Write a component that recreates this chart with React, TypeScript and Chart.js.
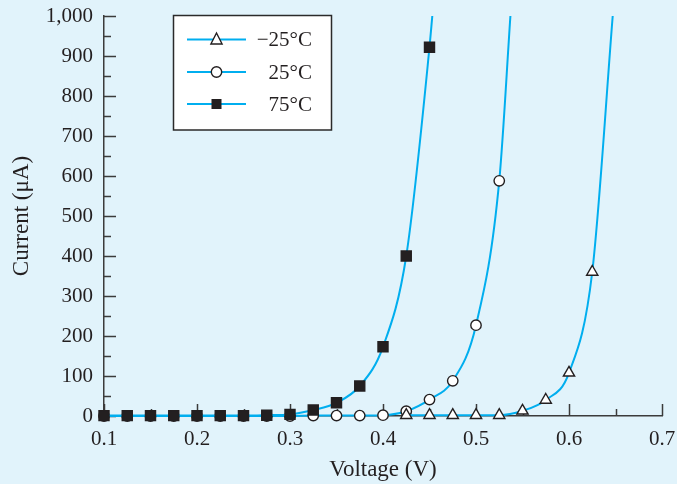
import React, { useEffect, useRef } from "react";
import { Chart, registerables } from "chart.js";

Chart.register(...registerables);

// ---- data ----
const voltageM25 = [0.425, 0.45, 0.475, 0.5, 0.525, 0.55, 0.575, 0.6, 0.625, 0.647];
const currentM25 = [2, 2, 2, 2, 2, 13, 40, 108, 360, 1000];

const voltage25 = [0.1, 0.125, 0.15, 0.175, 0.2, 0.225, 0.25, 0.275, 0.3, 0.325, 0.35, 0.375, 0.4, 0.425, 0.45, 0.475, 0.5, 0.525, 0.537];
const current25 = [0, 0, 0, 0, 0, 0, 0, 0, 0, 1, 1, 1, 2, 12, 41, 88, 227, 588, 1000];

const voltage75 = [0.1, 0.125, 0.15, 0.175, 0.2, 0.225, 0.25, 0.275, 0.3, 0.325, 0.35, 0.375, 0.4, 0.425, 0.45, 0.453];
const current75 = [1, 1, 1, 1, 1, 1, 1, 2, 4, 15, 33, 75, 173, 400, 922, 1000];

const seriesLabels = ["\u221225\u00B0C", "25\u00B0C", "75\u00B0C"];
const xTickValues = [0.1, 0.2, 0.3, 0.4, 0.5, 0.6, 0.7];
const yTickValues = [0, 100, 200, 300, 400, 500, 600, 700, 800, 900, 1000];

const xTitle = "Voltage (V)";
const yTitle = "Current (\u03BCA)";

// ---- styles ----
const BG = "#e1f3fb";
const LINE = "#00aeef";
const AXIS = "#3b3b3b";
const TEXT = "#231f20";
const MARK = "#231f20";
const FONT = "'Liberation Serif', 'Times New Roman', serif";

const pts = (xs: number[], ys: number[]) => xs.map((x, i) => ({ x, y: ys[i] }));

function drawMarker(ctx: CanvasRenderingContext2D, kind: string, x: number, y: number) {
  ctx.save();
  ctx.lineWidth = 1.4;
  ctx.strokeStyle = MARK;
  ctx.beginPath();
  if (kind === "triangle") {
    ctx.moveTo(x, y - 6.5);
    ctx.lineTo(x + 5.6, y + 4.5);
    ctx.lineTo(x - 5.6, y + 4.5);
    ctx.closePath();
    ctx.fillStyle = "#ffffff";
    ctx.fill();
    ctx.stroke();
  } else if (kind === "circle") {
    ctx.arc(x, y, 5.2, 0, Math.PI * 2);
    ctx.fillStyle = "#ffffff";
    ctx.fill();
    ctx.stroke();
  } else {
    ctx.fillStyle = MARK;
    ctx.fillRect(x - 5, y - 5, 10, 10);
  }
  ctx.restore();
}

const decorPlugin = {
  id: "decor",
  beforeDraw(chart: any) {
    const { ctx, width, height } = chart;
    ctx.save();
    ctx.fillStyle = BG;
    ctx.fillRect(0, 0, width, height);
    ctx.restore();
  },
  beforeDatasetsDraw(chart: any) {
    const { ctx, chartArea } = chart;
    const x = chart.scales.x;
    const y = chart.scales.y;
    ctx.save();
    ctx.strokeStyle = AXIS;
    ctx.lineWidth = 1.5;
    for (let i = 0; i <= 20; i++) {
      const v = i * 50;
      const py = Math.round(y.getPixelForValue(v)) + 0.5;
      const len = i % 2 === 0 ? 12 : 7;
      ctx.beginPath();
      ctx.moveTo(chartArea.left, py);
      ctx.lineTo(chartArea.left + len, py);
      ctx.stroke();
    }
    for (let i = 0; i <= 12; i++) {
      const v = 0.1 + i * 0.05;
      const px = Math.round(x.getPixelForValue(v)) + 0.5;
      const len = i % 2 === 0 ? 12 : 7;
      ctx.beginPath();
      ctx.moveTo(px, chartArea.bottom);
      ctx.lineTo(px, chartArea.bottom - len);
      ctx.stroke();
    }
    ctx.restore();
  },
  afterDraw(chart: any) {
    const { ctx } = chart;
    ctx.save();
    // legend box
    ctx.fillStyle = "#ffffff";
    ctx.fillRect(173.5, 15.5, 158, 114.5);
    ctx.strokeStyle = "#2a2a2a";
    ctx.lineWidth = 1.5;
    ctx.strokeRect(173.5, 15.5, 158, 114.5);
    const rows = [39.5, 72, 104];
    const kinds = ["triangle", "circle", "rect"];
    rows.forEach((ry, i) => {
      ctx.strokeStyle = LINE;
      ctx.lineWidth = 2;
      ctx.beginPath();
      ctx.moveTo(187, ry);
      ctx.lineTo(246, ry);
      ctx.stroke();
      drawMarker(ctx, kinds[i], 216.5, ry);
      ctx.fillStyle = TEXT;
      ctx.font = `21px ${FONT}`;
      ctx.textAlign = "right";
      ctx.textBaseline = "middle";
      ctx.fillText(seriesLabels[i], 312, ry + 1);
    });
    ctx.restore();
  },
};

export default function App() {
  const ref = useRef<HTMLCanvasElement | null>(null);

  useEffect(() => {
    if (!ref.current) return;
    Chart.defaults.font.family = FONT;
    const common = {
      showLine: true,
      borderColor: LINE,
      borderWidth: 2,
      cubicInterpolationMode: "monotone" as const,
      pointBorderColor: MARK,
      pointBorderWidth: 1.4,
      pointHoverRadius: 0,
      clip: false as const,
    };
    const lastZero = (n: number, r: number) => (c: any) => (c.dataIndex === n - 1 ? 0 : r);
    const zeroPad = (s: any) => {
      s.paddingTop = 0;
      s.paddingBottom = 0;
      s.paddingLeft = 0;
      s.paddingRight = 0;
    };
    const chart = new Chart(ref.current, {
      type: "scatter",
      data: {
        datasets: [
          {
            ...common,
            label: seriesLabels[2],
            data: pts(voltage75, current75),
            pointStyle: "rect",
            pointRadius: lastZero(voltage75.length, 7.1),
            pointBackgroundColor: MARK,
            order: 0,
          },
          {
            ...common,
            label: seriesLabels[0],
            data: pts(voltageM25, currentM25),
            pointStyle: "triangle",
            pointRadius: lastZero(voltageM25.length, 6.5),
            pointBackgroundColor: "#ffffff",
            order: 1,
          },
          {
            ...common,
            label: seriesLabels[1],
            data: pts(voltage25, current25),
            pointStyle: "circle",
            pointRadius: lastZero(voltage25.length, 5.2),
            pointBackgroundColor: "#ffffff",
            order: 2,
          },
        ],
      },
      plugins: [decorPlugin],
      options: {
        animation: false,
        responsive: false,
        devicePixelRatio: 1,
        layout: { padding: { left: 0, right: 15, top: 16, bottom: 0 } },
        plugins: { legend: { display: false }, tooltip: { enabled: false } },
        events: [],
        scales: {
          x: {
            type: "linear",
            min: 0.1,
            max: 0.7,
            grid: { display: false, drawTicks: false },
            border: { display: true, color: AXIS, width: 1.5 },
            afterBuildTicks: (s: any) => {
              s.ticks = xTickValues.map((v) => ({ value: v }));
            },
            afterFit: (s: any) => {
              s.height = 68;
              zeroPad(s);
            },
            ticks: {
              padding: 11,
              color: TEXT,
              font: { size: 21, family: FONT },
              maxRotation: 0,
              callback: (v: any) => Number(v).toFixed(1),
            },
            title: {
              display: true,
              text: xTitle,
              color: TEXT,
              font: { size: 23, family: FONT },
              padding: { top: 0, bottom: 0 },
            },
          },
          y: {
            type: "linear",
            min: 0,
            max: 1000,
            grid: { display: false, drawTicks: false },
            border: { display: true, color: AXIS, width: 1.5 },
            afterBuildTicks: (s: any) => {
              s.ticks = yTickValues.map((v) => ({ value: v }));
            },
            afterFit: (s: any) => {
              s.width = 104;
              zeroPad(s);
            },
            ticks: {
              padding: 11,
              color: TEXT,
              font: { size: 21, family: FONT },
              callback: (v: any) => Number(v).toLocaleString("en-US"),
            },
            title: {
              display: true,
              text: yTitle,
              color: TEXT,
              font: { size: 23, family: FONT },
              padding: { top: 8, bottom: 0 },
            },
          },
        },
      },
    } as any);
    return () => chart.destroy();
  }, []);

  return (
    <div style={{ position: "fixed", left: 0, top: 0, width: 677, height: 484 }}>
      <canvas ref={ref} width={677} height={484} style={{ display: "block", width: 677, height: 484 }} />
    </div>
  );
}
